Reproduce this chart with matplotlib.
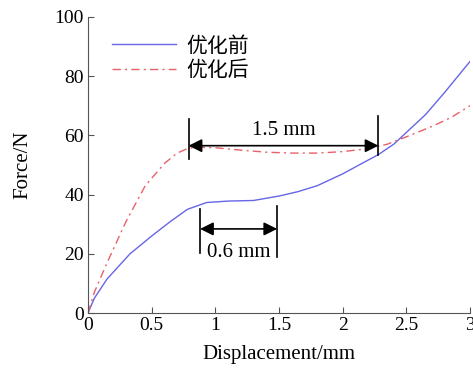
import matplotlib
matplotlib.use("Agg")
import matplotlib.pyplot as plt

plt.rcParams['font.family'] = ['Liberation Serif', 'Noto Sans CJK SC']
plt.rcParams['mathtext.fontset'] = 'stix'

x_before = [0.0, 0.05, 0.15, 0.33, 0.5, 0.65, 0.78, 0.93, 1.1, 1.3, 1.5, 1.65, 1.8, 2.0, 2.15, 2.28, 2.4, 2.5, 2.65, 2.8, 3.0]
y_before = [0.0, 5.0, 11.5, 20.0, 26.0, 31.0, 35.0, 37.3, 37.8, 38.0, 39.5, 41.0, 43.0, 47.0, 50.5, 53.5, 57.0, 61.0, 67.0, 74.5, 85.0]

x_after = [0.0, 0.05, 0.15, 0.3, 0.45, 0.6, 0.7, 0.78, 0.85, 1.0, 1.2, 1.4, 1.6, 1.8, 2.0, 2.2, 2.35, 2.5, 2.7, 2.85, 3.0]
y_after = [0.0, 7.0, 17.0, 31.0, 43.0, 50.5, 54.0, 55.5, 56.0, 55.8, 55.0, 54.3, 54.0, 54.0, 54.5, 55.5, 57.0, 59.5, 63.0, 66.0, 70.0]

labels = ['优化前', '优化后']
span_long = (0.79, 2.28)
span_short = (0.88, 1.485)

fig = plt.figure(figsize=(4.73, 3.74), dpi=100)
ax = fig.add_axes([0.186, 0.163, 0.808, 0.792])

ax.plot(x_before, y_before, color='#6666e6', lw=1.0, label=labels[0])
ax.plot(x_after, y_after, color='#e8606a', lw=1.0, ls=(0, (6, 3, 1.5, 3)), label=labels[1])

ax.set_xlim(0, 3)
ax.set_ylim(0, 100)
ax.set_xticks([0, 0.5, 1, 1.5, 2, 2.5, 3])
ax.set_xticklabels(['0', '0.5', '1', '1.5', '2', '2.5', '3'])
ax.set_yticks([0, 20, 40, 60, 80, 100])
ax.spines['top'].set_visible(False)
ax.spines['right'].set_visible(False)
for s in ['left', 'bottom']:
    ax.spines[s].set_color('#555555')
    ax.spines[s].set_linewidth(0.8)
ax.tick_params(direction='in', length=4, color='#555555', labelsize=14, pad=3)
ax.set_xlabel('Displacement/mm', fontsize=15, labelpad=8)
ax.set_ylabel('Force/N', fontsize=15, labelpad=16)

leg = ax.legend(loc='upper left', bbox_to_anchor=(0.04, 0.96), frameon=False,
                fontsize=15, handlelength=3.1, handletextpad=0.5, labelspacing=0.25,
                borderaxespad=0)

# long span annotation
ax.plot([span_long[0]] * 2, [52, 65.5], color='black', lw=1.2)
ax.plot([span_long[1]] * 2, [53.5, 66.5], color='black', lw=1.2)
ax.annotate('', xy=(span_long[0], 56.5), xytext=(span_long[1], 56.5),
            arrowprops=dict(arrowstyle='<|-|>', color='black', lw=1.2, mutation_scale=20, shrinkA=0, shrinkB=0))
ax.text((span_long[0] + span_long[1]) / 2, 58.5, '1.5 mm', ha='center', va='bottom', fontsize=15)

# short span annotation
ax.plot([span_short[0]] * 2, [20.3, 35], color='black', lw=1.2)
ax.plot([span_short[1]] * 2, [19, 36], color='black', lw=1.2)
ax.annotate('', xy=(span_short[0], 28.4), xytext=(span_short[1], 28.4),
            arrowprops=dict(arrowstyle='<|-|>', color='black', lw=1.2, mutation_scale=20, shrinkA=0, shrinkB=0))
ax.text((span_short[0] + span_short[1]) / 2, 20.3, '0.6 mm', ha='center', va='center', fontsize=15)

fig.savefig('out.png', dpi=100)
